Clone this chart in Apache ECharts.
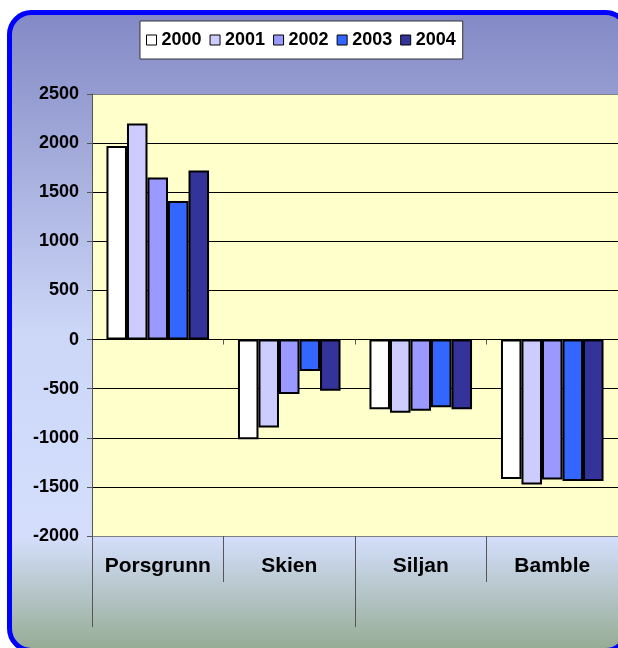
<!DOCTYPE html>
<html>
<head>
<meta charset="utf-8">
<script src="https://cdn.jsdelivr.net/npm/echarts@6/dist/echarts.min.js"></script>
<style>
  html, body { margin: 0; padding: 0; background: #fff; }
  #main { width: 618px; height: 648px; }
</style>
</head>
<body>
<div id="main"></div>
<script>
var dom = document.getElementById('main');
var chart = echarts.init(dom);

// data
var places = ['Porsgrunn', 'Skien', 'Siljan', 'Bamble'];
var years = ['2000', '2001', '2002', '2003', '2004'];
var v2000 = [1970, -1015, -710, -1420];
var v2001 = [2200, -895, -745, -1475];
var v2002 = [1650, -555, -725, -1425];
var v2003 = [1410, -320, -690, -1440];
var v2004 = [1720, -520, -710, -1440];
var yearColors = ['#FFFFFF', '#CCCCFF', '#9999FF', '#3366FF', '#333399'];

var values = [v2000, v2001, v2002, v2003, v2004];
var font = 'Arial, "Liberation Sans", sans-serif';

var series = years.map(function (y, i) {
    return {
        name: y,
        type: 'bar',
        xAxisIndex: 0,
        data: values[i],
        barGap: '0%',
        barCategoryGap: '22%',
        itemStyle: {
            color: yearColors[i],
            borderColor: '#000',
            borderWidth: 2
        }
    };
});

chart.setOption({
    backgroundColor: '#fff',
    animation: false,
    graphic: [{
        type: 'rect',
        z: -100,
        silent: true,
        shape: { x: 9.5, y: 12.5, width: 618, height: 638, r: 22 },
        style: {
            fill: new echarts.graphic.LinearGradient(0, 0, 0, 1, [
                { offset: 0, color: '#8288C4' },
                { offset: 0.5, color: '#CCD6F7' },
                { offset: 0.82, color: '#D4DEFC' },
                { offset: 1, color: '#94AA90' }
            ]),
            stroke: '#0000FF',
            lineWidth: 5
        }
    }],
    legend: {
        left: 140,
        top: 21,
        itemWidth: 10,
        itemHeight: 10,
        itemGap: 8,
        icon: 'rect',
        itemStyle: { borderColor: '#000', borderWidth: 1 },
        backgroundColor: '#fff',
        borderColor: '#333',
        borderWidth: 1,
        borderRadius: 0,
        padding: [10, 7, 10, 6],
        textStyle: { fontFamily: font, fontWeight: 'bold', fontSize: 18, color: '#000' },
        data: years
    },
    grid: {
        left: 92,
        top: 94,
        width: 528,
        height: 442,
        show: true,
        backgroundColor: '#FFFFCC',
        borderWidth: 0
    },
    xAxis: [{
        type: 'category',
        position: 'bottom',
        data: places,
        axisLine: { onZero: false, lineStyle: { color: '#808080', width: 1 } },
        axisTick: { show: true, interval: 0, length: 46, lineStyle: { color: '#555' } },
        axisLabel: { interval: 0, fontFamily: font, fontWeight: 'bold', fontSize: 21, color: '#000', margin: 20 },
        splitLine: { show: false }
    }, {
        type: 'category',
        position: 'bottom',
        data: ['', ''],
        axisLine: { show: false, onZero: false },
        axisTick: { show: true, interval: 0, length: 91, lineStyle: { color: '#555' } },
        axisLabel: { show: false },
        splitLine: { show: false }
    }, {
        type: 'category',
        position: 'bottom',
        data: places,
        axisLine: { show: true, onZero: true, lineStyle: { color: '#000', width: 1 } },
        axisTick: { show: true, interval: 0, length: 5, lineStyle: { color: '#555' } },
        axisLabel: { show: false },
        splitLine: { show: false }
    }],
    yAxis: {
        type: 'value',
        min: -2000,
        max: 2500,
        interval: 500,
        axisLine: { show: true, lineStyle: { color: '#555', width: 1 } },
        axisTick: { show: true, length: 5, lineStyle: { color: '#555' } },
        axisLabel: {
            fontFamily: font, fontWeight: 'bold', fontSize: 18, color: '#000', margin: 13,
            formatter: function (v) { return String(v); }
        },
        splitLine: {
            show: true,
            lineStyle: {
                color: ['#808080', '#000', '#000', '#000', '#000', '#000', '#000', '#000', '#000', '#808080'],
                width: 1
            }
        }
    },
    series: series
});
</script>
</body>
</html>
